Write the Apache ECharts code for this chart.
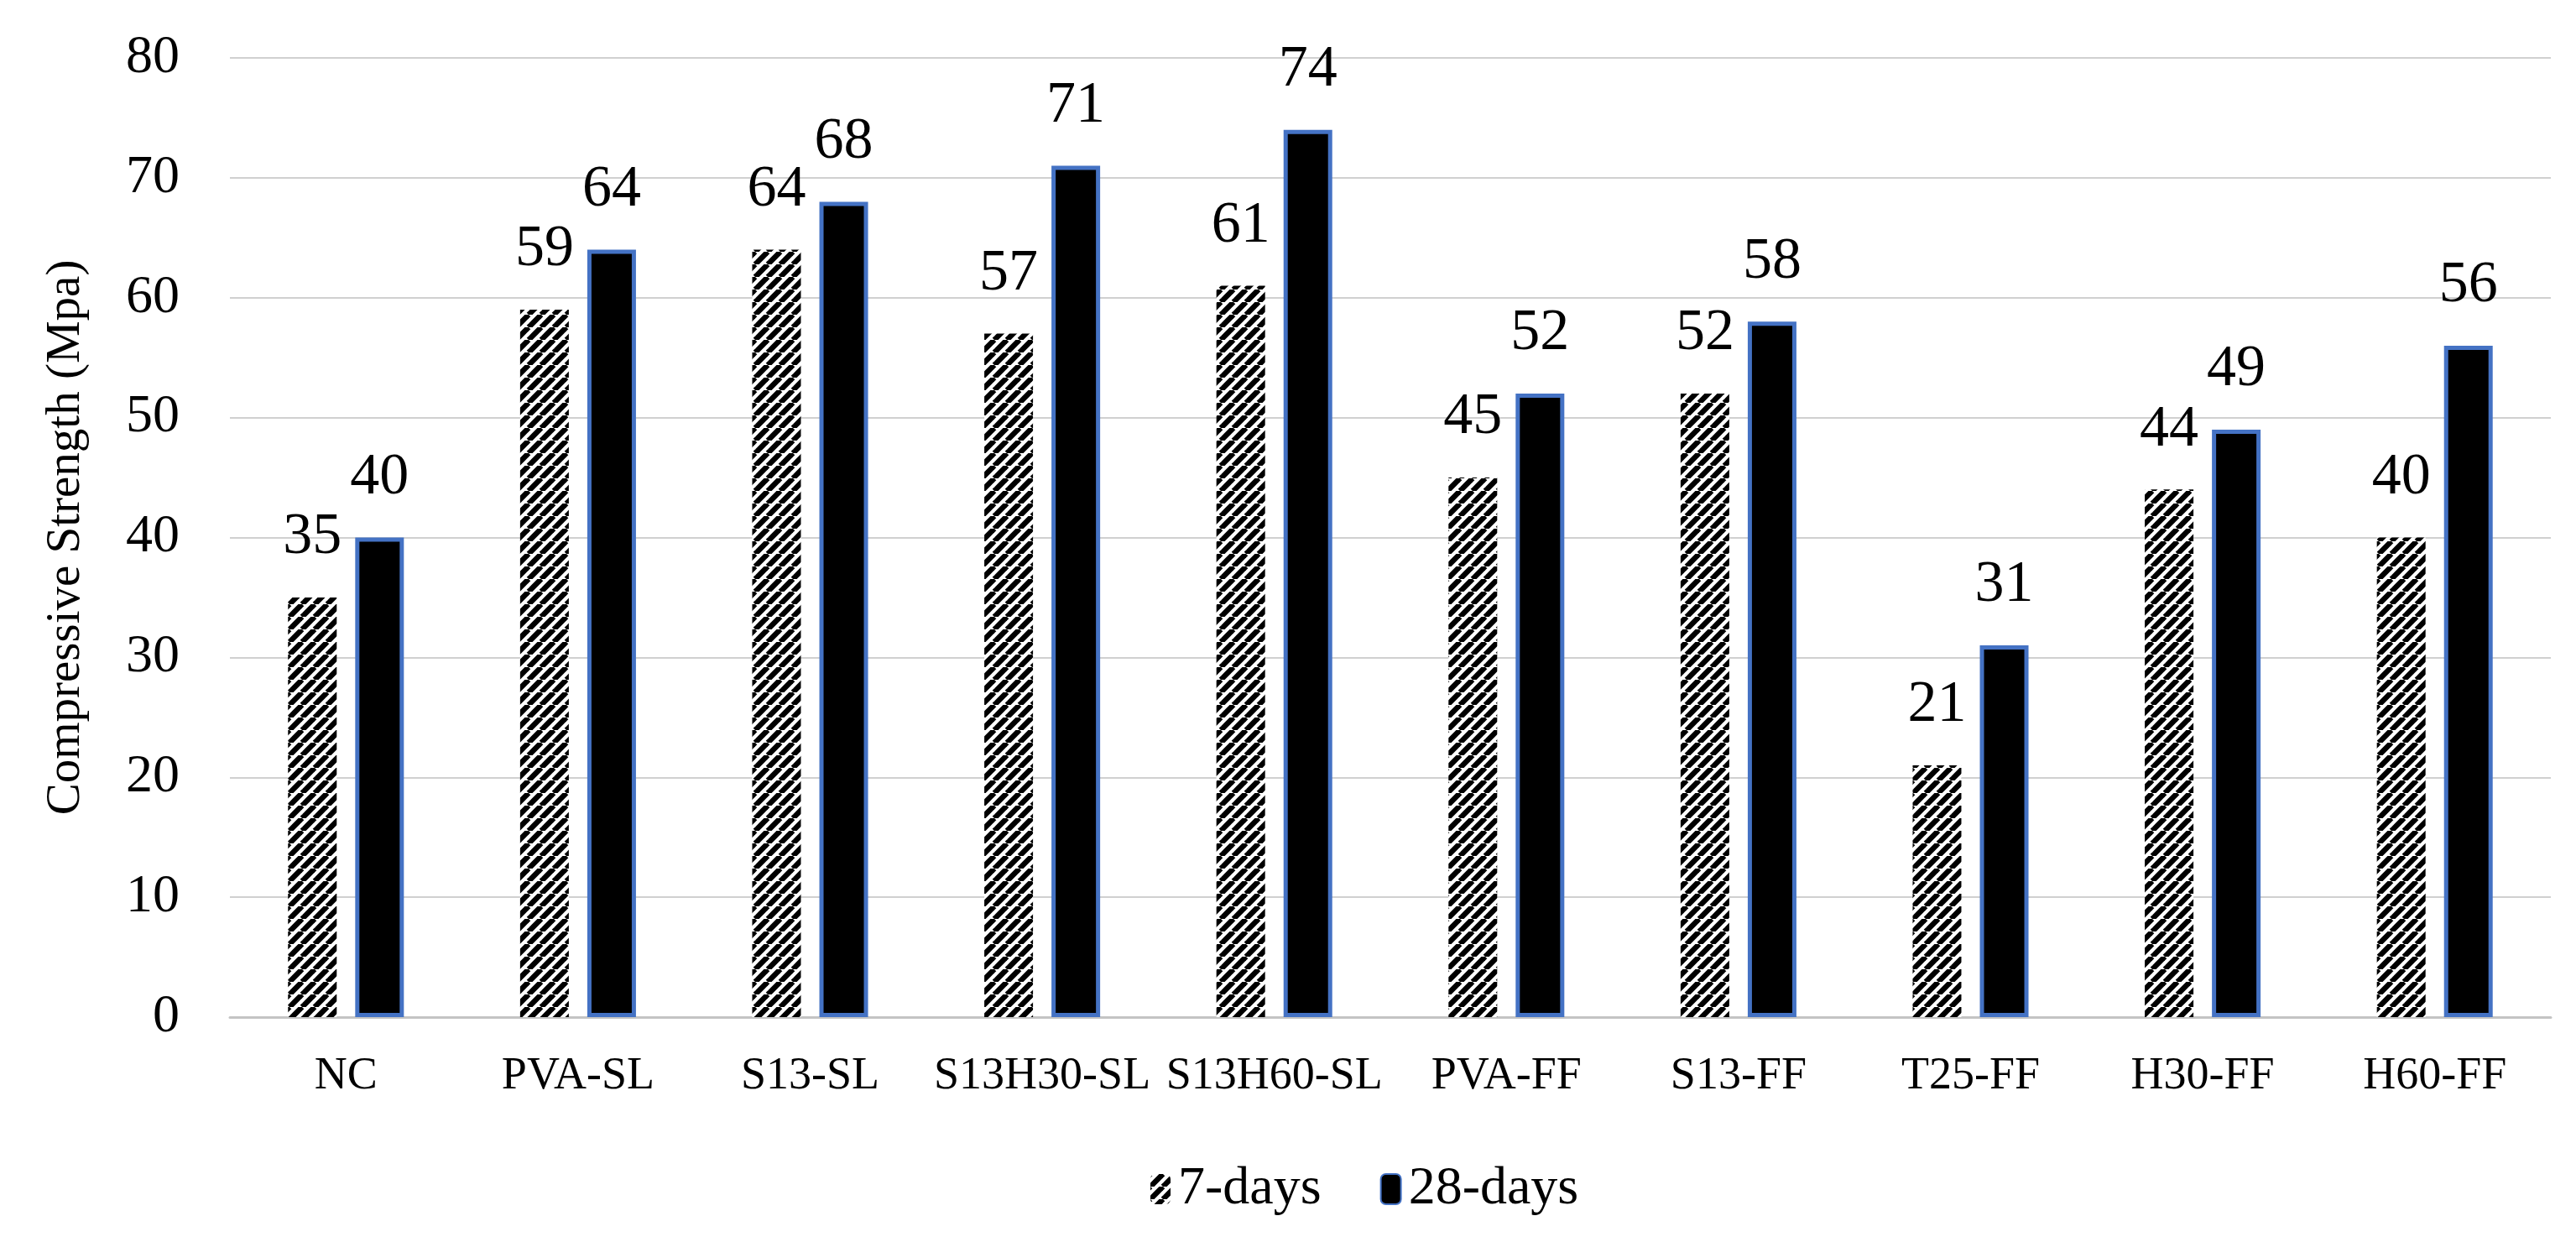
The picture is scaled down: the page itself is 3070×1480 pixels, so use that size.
<!DOCTYPE html>
<html>
<head>
<meta charset="utf-8">
<script src="https://cdn.jsdelivr.net/npm/echarts@6/dist/echarts.min.js"></script>
<style>
html,body{margin:0;padding:0;background:#fff;}
#chart{width:3070px;height:1480px;}
</style>
</head>
<body>
<div id="chart"></div>
<script>
const categories = ['NC','PVA-SL','S13-SL','S13H30-SL','S13H60-SL','PVA-FF','S13-FF','T25-FF','H30-FF','H60-FF'];
const days7 = [35,59,64,57,61,45,52,21,44,40];
const days28 = [40,64,68,71,74,52,58,31,49,56];
const seriesNames = ['7-days','28-days'];
const yTicks = [0,10,20,30,40,50,60,70,80];

function makeHatch(){
  const w = 15, h = 15;
  const c = document.createElement('canvas');
  c.width = w; c.height = h;
  const ctx = c.getContext('2d');
  ctx.fillStyle = '#fff';
  ctx.fillRect(0,0,w,h);
  ctx.strokeStyle = '#000';
  ctx.lineWidth = 6.5;
  for (let i=-1;i<=1;i++){
    ctx.beginPath();
    ctx.moveTo(i*w, h);
    ctx.lineTo((i+1)*w, 0);
    ctx.stroke();
  }
  return c;
}
const hatch = {image: makeHatch(), repeat: 'repeat'};

const FONT = '"Liberation Serif", "Times New Roman", serif';
const chart = echarts.init(document.getElementById('chart'));
chart.setOption({
  animation: false,
  backgroundColor: '#fff',
  textStyle: {fontFamily: FONT, color: '#000'},
  grid: {left: 274, right: 30, top: 69, bottom: 268, containLabel: false},
  legend: {
    left: 1366, top: 1380,
    itemWidth: 24, itemHeight: 36, itemGap: 70,
    textStyle: {fontFamily: FONT, fontSize: 64, color: '#000', padding: [0,0,0,4]},
    data: seriesNames
  },
  xAxis: {
    type: 'category',
    data: categories,
    axisLine: {lineStyle: {color: '#c4c4c4', width: 3}},
    axisTick: {show: false},
    axisLabel: {fontFamily: FONT, fontSize: 54, color: '#000', margin: 44, interval: 0}
  },
  yAxis: {
    type: 'value',
    min: yTicks[0], max: yTicks[yTicks.length-1], interval: 10,
    name: 'Compressive Strength (Mpa)',
    nameLocation: 'middle',
    nameGap: 166,
    nameTextStyle: {fontFamily: FONT, fontSize: 57, color: '#000'},
    axisLine: {show: false},
    axisTick: {show: false},
    axisLabel: {fontFamily: FONT, fontSize: 64, color: '#000', margin: 60},
    splitLine: {lineStyle: {color: '#d0d0d0', width: 2}}
  },
  series: [
    {
      name: seriesNames[0], type: 'bar', data: days7,
      barWidth: 58, barGap: '38%',
      itemStyle: {color: hatch},
      label: {show: true, position: 'top', distance: 36, fontFamily: FONT, fontSize: 70, color: '#000'}
    },
    {
      name: seriesNames[1], type: 'bar', data: days28,
      barWidth: 58,
      itemStyle: {color: '#000', borderColor: '#4472C4', borderWidth: 5},
      label: {show: true, position: 'top', distance: 36, fontFamily: FONT, fontSize: 70, color: '#000'}
    }
  ]
});
</script>
</body>
</html>
